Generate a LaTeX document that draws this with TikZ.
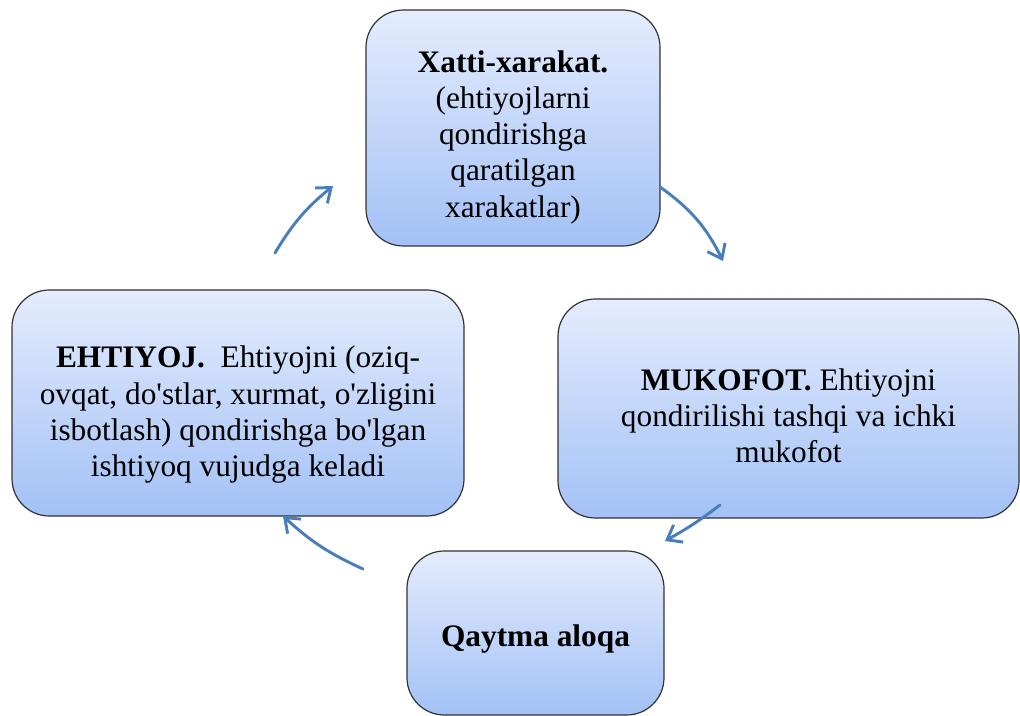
\documentclass[tikz,border=0pt]{standalone}
\usepackage{fontspec}
\setmainfont{Liberation Serif}
\usepackage{xcolor}
\usepackage{tikz}
\usetikzlibrary{arrows.meta, positioning}

\definecolor{boxtop}{RGB}{228,236,253}
\definecolor{boxbot}{RGB}{163,193,246}
\definecolor{boxline}{RGB}{50,50,50}
\definecolor{cyclearrow}{RGB}{74,126,187}
\newcommand{\stagestrut}[1][30pt]{\rule{0pt}{#1}}

\begin{document}
\begin{tikzpicture}[
  x=0.75pt, y=-0.75pt,
  stage/.style={draw=boxline, line width=0.9pt, rounded corners=28pt, top color=boxtop, bottom color=boxbot, align=center, font=\fontsize{23.5}{27.2}\selectfont, inner sep=4pt},
  cycle/.style={-{Straight Barb[length=3.4mm, width=5.2mm, line width=2.2pt]}, draw=cyclearrow, line width=2.2pt, line cap=round}
]
  \useasboundingbox (0,0) rectangle (1020,716);

  \node[stage, minimum width=220.5pt, minimum height=177pt] (xatti) at (513,128) {\stagestrut\textbf{Xatti-xarakat.}\\(ehtiyojlarni\\qondirishga\\qaratilgan\\xarakatlar)};
  \node[stage, minimum width=345.75pt, minimum height=164.25pt] (mukofot) at (788.5,408.5) {\stagestrut[27pt]\textbf{MUKOFOT.} Ehtiyojni\\qondirilishi tashqi va ichki\\mukofot};
  \node[stage, minimum width=192.75pt, minimum height=123pt] (qaytma) at (535.5,633) {\stagestrut[26pt]\textbf{Qaytma aloqa}};
  \node[stage, minimum width=339pt, minimum height=169.5pt] (ehtiyoj) at (238,403) {\stagestrut[34pt]\textbf{EHTIYOJ.}\ \ Ehtiyojni (oziq-\\ovqat, do\textquotesingle stlar, xurmat, o\textquotesingle zligini\\isbotlash) qondirishga bo\textquotesingle lgan\\ishtiyoq vujudga keladi};

  % arrow ends between the boxes
  \coordinate (e2x) at (275,253);
  \coordinate (x2e) at (333,186);
  \coordinate (x2m) at (660,187);
  \coordinate (m2x) at (723,261);
  \coordinate (m2q) at (720,505);
  \coordinate (q2m) at (665,541);
  \coordinate (q2e) at (363,569);
  \coordinate (e2q) at (283,516);

  \draw[cycle] (e2x) to[bend left=10] (x2e);
  \draw[cycle] (x2m) to[bend left=14] (m2x);
  \draw[cycle] (m2q) to[bend left=4] (q2m);
  \draw[cycle] (q2e) to[bend left=9] (e2q);
\end{tikzpicture}
\end{document}
